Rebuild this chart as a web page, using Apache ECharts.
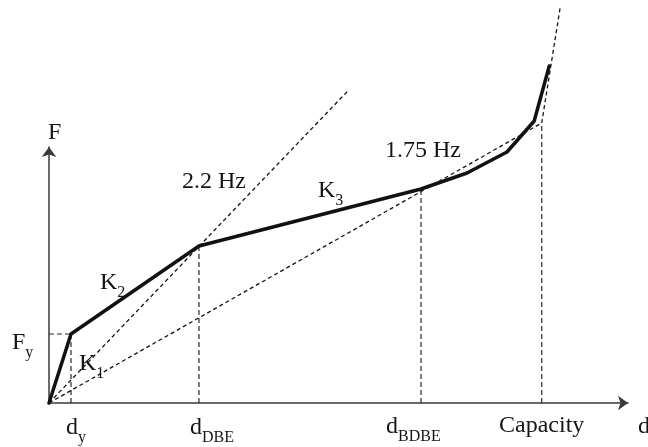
<!DOCTYPE html>
<html>
<head>
<meta charset="utf-8">
<script src="https://cdn.jsdelivr.net/npm/echarts@6/dist/echarts.min.js"></script>
<style>
  html, body { margin: 0; padding: 0; background: #fff; }
  #chart { width: 648px; height: 447px; }
</style>
</head>
<body>
<div id="chart"></div>
<script>
// Force–displacement capacity curve (displacement d, force F, arbitrary units)
const curveD = [0, 3.8, 25.9, 64.25, 72.2, 79.1, 83.8, 86.4];
const curveF = [0, 17.25, 39.25, 53.5, 57.5, 62.75, 70.5, 84.25];

// Key points: yield, design basis earthquake, beyond-DBE, capacity corner
const yieldPoint = [3.8, 17.25];
const dbePoint = [25.9, 39.25];
const bdbePoint = [64.25, 53.5];
const capacityPoint = [85.1, 70];

// Secant stiffness lines (2.2 Hz and 1.75 Hz) and the steep tangent at capacity
const secant22Hz = [[0, 0], [51.6, 78]];
const secant175Hz = [[0, 0], capacityPoint];
const capacityTangent = [capacityPoint, [88.3, 99]];

// Axis extents
const dMax = 100;
const fMax = 64;

const SERIF = '"Liberation Serif", "Times New Roman", serif';
const TXT = '#151515';

const chart = echarts.init(document.getElementById('chart'), null, { renderer: 'canvas' });

const dashStyle = { color: '#151515', width: 1.3, type: [4, 3] };
const guideStyle = { color: '#2a2a2a', width: 1.2, type: [5, 3] };

function lineSeries(points, style, z) {
  return {
    type: 'line',
    data: points,
    symbol: 'none',
    clip: false,
    silent: true,
    z: z || 2,
    lineStyle: style
  };
}

const rich = {
  m: { fontFamily: SERIF, fontSize: 24, lineHeight: 30, verticalAlign: 'top', color: TXT },
  s: { fontFamily: SERIF, fontSize: 16, lineHeight: 16, verticalAlign: 'bottom', color: TXT }
};

function label(text, x, baseline) {
  return {
    type: 'text',
    left: x,
    top: baseline - 19,
    silent: true,
    style: { text: text, rich: rich, fill: TXT }
  };
}

chart.setOption({
  animation: false,
  backgroundColor: '#fff',
  grid: { left: 49, right: 20, top: 147, bottom: 44, containLabel: false },
  xAxis: {
    type: 'value', min: 0, max: dMax,
    axisLine: { show: true, onZero: true, symbol: ['none', 'arrow'], symbolSize: [11, 10],
      lineStyle: { color: '#3a3a3a', width: 1.5 } },
    axisTick: { show: false }, axisLabel: { show: false }, splitLine: { show: false }
  },
  yAxis: {
    type: 'value', min: 0, max: fMax,
    axisLine: { show: true, symbol: ['none', 'arrow'], symbolSize: [11, 10],
      lineStyle: { color: '#3a3a3a', width: 1.5 } },
    axisTick: { show: false }, axisLabel: { show: false }, splitLine: { show: false }
  },
  series: [
    // guide lines to the axes
    lineSeries([[0, yieldPoint[1]], yieldPoint], guideStyle, 1),
    lineSeries([[yieldPoint[0], 0], yieldPoint], guideStyle, 1),
    lineSeries([[dbePoint[0], 0], dbePoint], guideStyle, 1),
    lineSeries([[bdbePoint[0], 0], bdbePoint], guideStyle, 1),
    lineSeries([[capacityPoint[0], 0], capacityPoint], guideStyle, 1),
    // stiffness lines
    lineSeries(secant22Hz, dashStyle, 2),
    lineSeries(secant175Hz, dashStyle, 2),
    lineSeries(capacityTangent, dashStyle, 2),
    // capacity curve
    lineSeries(curveD.map((d, i) => [d, curveF[i]]),
      { color: '#111', width: 3.5, join: 'round', cap: 'round' }, 3)
  ],
  graphic: [
    label('{m|F}', 48, 140),
    label('{m|F}{s|y}', 12, 350),
    label('{m|K}{s|1}', 79, 371),
    label('{m|K}{s|2}', 100, 290),
    label('{m|2.2 Hz}', 182, 189),
    label('{m|K}{s|3}', 318, 198),
    label('{m|1.75 Hz}', 385, 158),
    label('{m|d}{s|y}', 66, 435),
    label('{m|d}{s|DBE}', 190, 435),
    label('{m|d}{s|BDBE}', 386, 434),
    label('{m|Capacity}', 499, 433),
    label('{m|d}', 638, 434)
  ]
});
</script>
</body>
</html>
